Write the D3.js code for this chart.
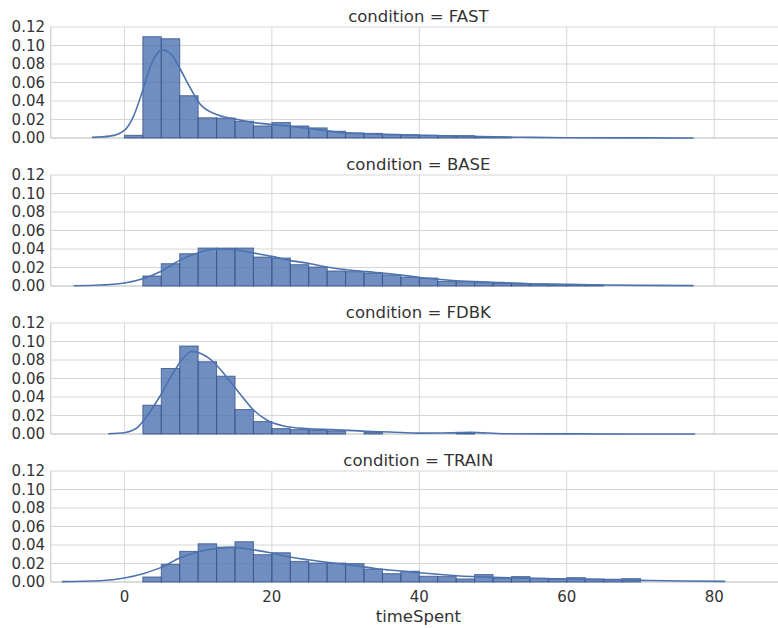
<!DOCTYPE html>
<html>
<head>
<meta charset="utf-8">
<script src="https://cdn.jsdelivr.net/npm/d3@7"></script>
<style>
  body { margin: 0; background: #fff; }
  text { font-family: "DejaVu Sans", sans-serif; fill: #333; }
</style>
</head>
<body>
<div id="chart"></div>
<script>
const conditions = ['FAST', 'BASE', 'FDBK', 'TRAIN'];
const binWidth = 2.5;
const binStarts = [0, 2.5, 2.5, 2.5];
const yTicks = [0, 0.02, 0.04, 0.06, 0.08, 0.10, 0.12];
const xTicks = [0, 20, 40, 60, 80];

// histogram densities, one value per 2.5-wide bin
const fastHist = [0.0029, 0.1095, 0.1073, 0.0457, 0.0218, 0.0215, 0.0181, 0.013, 0.0167, 0.013,
  0.0109, 0.0073, 0.0055, 0.005, 0.004, 0.0035, 0.0029, 0.0025, 0.0025, 0.001, 0.001];
const baseHist = [0.0108, 0.0241, 0.0349, 0.041, 0.041, 0.041, 0.0313, 0.0302, 0.023, 0.0205,
  0.0162, 0.0155, 0.014, 0.012, 0.0095, 0.0086, 0.005, 0.0046, 0.0036, 0.0029, 0.0025, 0.0022,
  0.0015, 0.0014, 0.001];
const fdbkHist = [0.0311, 0.0708, 0.0951, 0.0781, 0.0625, 0.0264, 0.0134, 0.0058, 0.0047, 0.004,
  0.0033, 0, 0.0018, 0, 0, 0, 0, 0.001];
const trainHist = [0.0054, 0.019, 0.0331, 0.0413, 0.0377, 0.0435, 0.0295, 0.0316, 0.0223, 0.0205,
  0.0205, 0.0198, 0.014, 0.009, 0.0116, 0.0062, 0.0058, 0.0033, 0.008, 0.0043, 0.0058, 0.004,
  0.0033, 0.0047, 0.0033, 0.003, 0.0036];

// kde curves as [timeSpent, density]
const fastKde = [[-4.4, 0.0007], [-2, 0.002], [0, 0.0083], [1.2, 0.0228], [2.5, 0.052], [3.7, 0.081],
  [5.1, 0.0953], [6.4, 0.09], [7.5, 0.0754], [8.9, 0.0547], [10.2, 0.0373], [12.5, 0.0254],
  [14.7, 0.021], [17.5, 0.0167], [20, 0.0145], [22.4, 0.0127], [25.2, 0.0101], [28.3, 0.0069],
  [31, 0.0051], [36, 0.0037], [40, 0.003], [45, 0.002], [50, 0.0012], [54, 0.0008], [60, 0.0003],
  [70, 0.0001], [77.2, 0]];
const baseKde = [[-6.9, 0.0002], [-3.3, 0.001], [0, 0.0032], [2.5, 0.0079], [5, 0.016], [7.5, 0.0277],
  [10.2, 0.0366], [12.9, 0.04], [14.7, 0.0395], [17.5, 0.0356], [20, 0.032], [22.4, 0.0277],
  [25.2, 0.0241], [27.4, 0.0205], [30.1, 0.0176], [32.8, 0.0155], [36, 0.0133], [40, 0.0092],
  [45, 0.0057], [50, 0.004], [55, 0.0025], [60, 0.0018], [65, 0.001], [70, 0.0007], [77.2, 0.0004]];
const fdbkKde = [[-2.2, 0.0003], [0, 0.0014], [1.6, 0.006], [3, 0.0188], [4.8, 0.0405], [6.6, 0.066],
  [8.4, 0.0857], [9.1, 0.0893], [10.2, 0.0875], [12, 0.0784], [13.8, 0.0622], [15.6, 0.0441],
  [17.5, 0.026], [19.3, 0.0152], [21.6, 0.0087], [24.7, 0.0058], [28.3, 0.0047], [32.8, 0.0029],
  [36, 0.0022], [40, 0.001], [44, 0.0012], [46.9, 0.0018], [51.6, 0.0003], [60, 0.0001], [77.4, 0]];
const trainKde = [[-8.5, 0.0004], [-3.3, 0.0014], [0, 0.0043], [2.5, 0.009], [5, 0.0158], [7.5, 0.0259],
  [10.2, 0.033], [12.5, 0.0363], [14.7, 0.0374], [17.5, 0.0348], [20, 0.0313], [22.4, 0.027],
  [25.2, 0.0237], [28.3, 0.0205], [31, 0.018], [34.2, 0.0144], [36, 0.0129], [40, 0.01],
  [45, 0.0068], [50, 0.005], [55, 0.004], [60, 0.0032], [65, 0.0025], [70, 0.0018], [75.6, 0.0011],
  [81.5, 0.0007]];

const hists = [fastHist, baseHist, fdbkHist, trainHist];
const kdes = [fastKde, baseKde, fdbkKde, trainKde];

const width = 778;
const height = 628;
const left = 50.7;
const right = 778;
const panelTop = 27;
const panelStep = 148;
const panelHeight = 111;
const blue = '#4C72B0';

const svg = d3.select('#chart')
  .append('svg')
  .attr('width', width)
  .attr('height', height);

const x = d3.scaleLinear().domain([-10, 88.65]).range([left, right]);

conditions.forEach((condition, i) => {
  const top = panelTop + panelStep * i;
  const y = d3.scaleLinear().domain([0, 0.12]).range([top + panelHeight, top]);
  const g = svg.append('g');

  // grid
  g.selectAll('.hgrid')
    .data(yTicks)
    .join('line')
    .attr('x1', left).attr('x2', right)
    .attr('y1', d => y(d)).attr('y2', d => y(d))
    .attr('stroke', '#d6d6d6').attr('stroke-width', 1);
  g.selectAll('.vgrid')
    .data(xTicks)
    .join('line')
    .attr('x1', d => x(d)).attr('x2', d => x(d))
    .attr('y1', top).attr('y2', top + panelHeight)
    .attr('stroke', '#d6d6d6').attr('stroke-width', 1);

  // spines
  g.append('line')
    .attr('x1', left).attr('x2', left)
    .attr('y1', top).attr('y2', top + panelHeight)
    .attr('stroke', '#cccccc').attr('stroke-width', 1.2);
  g.append('line')
    .attr('x1', left).attr('x2', right)
    .attr('y1', top + panelHeight).attr('y2', top + panelHeight)
    .attr('stroke', '#cccccc').attr('stroke-width', 1.2);

  // y tick labels
  g.selectAll('.ylab')
    .data(yTicks)
    .join('text')
    .attr('x', 45)
    .attr('y', d => y(d))
    .attr('dy', '0.36em')
    .attr('text-anchor', 'end')
    .attr('font-size', 15)
    .text(d => d3.format('.2f')(d));

  // histogram bars
  const bars = hists[i]
    .map((v, k) => ({ x0: binStarts[i] + k * binWidth, v }))
    .filter(d => d.v > 0);
  g.selectAll('.bar')
    .data(bars)
    .join('rect')
    .attr('x', d => x(d.x0))
    .attr('width', d => x(d.x0 + binWidth) - x(d.x0))
    .attr('y', d => y(d.v))
    .attr('height', d => y(0) - y(d.v))
    .attr('fill', blue)
    .attr('fill-opacity', 0.8)
    .attr('stroke', '#34528a')
    .attr('stroke-opacity', 0.8)
    .attr('stroke-width', 1);

  // kde
  const line = d3.line()
    .x(d => x(d[0]))
    .y(d => y(d[1]))
    .curve(d3.curveMonotoneX);
  g.append('path')
    .datum(kdes[i])
    .attr('d', line)
    .attr('fill', 'none')
    .attr('stroke', blue)
    .attr('stroke-width', 1.6);

  // title
  g.append('text')
    .attr('x', (left + right) / 2 + 4)
    .attr('y', top - 5.5)
    .attr('text-anchor', 'middle')
    .attr('font-size', 16.5)
    .text(`condition = ${condition}`);
});

// x axis labels on the bottom panel
const bottom = panelTop + panelStep * 3 + panelHeight;
svg.selectAll('.xlab')
  .data(xTicks)
  .join('text')
  .attr('x', d => x(d))
  .attr('y', bottom + 20)
  .attr('text-anchor', 'middle')
  .attr('font-size', 15)
  .text(d => d);

svg.append('text')
  .attr('x', (left + right) / 2 + 4)
  .attr('y', bottom + 40)
  .attr('text-anchor', 'middle')
  .attr('font-size', 16.5)
  .text('timeSpent');
</script>
</body>
</html>
